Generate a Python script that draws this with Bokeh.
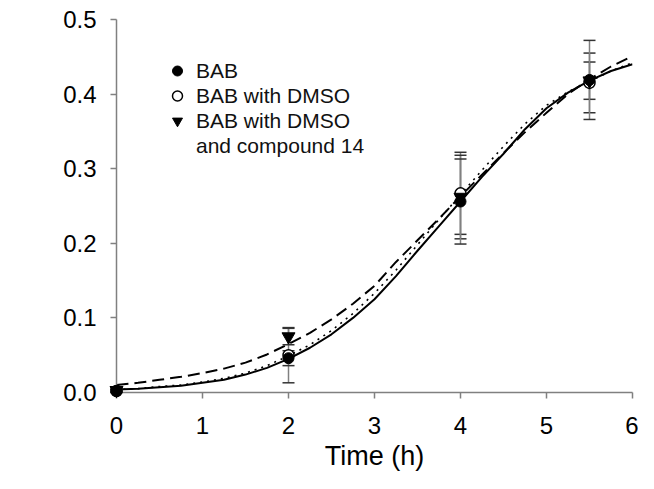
import math
from bokeh.plotting import figure
from bokeh.models import (Range1d, FixedTicker, PrintfTickFormatter, Legend,
                          LegendItem, Label, ColumnDataSource)
from bokeh.embed import file_html
from bokeh.resources import INLINE

# ---- data ----
x_ticks = [0, 1, 2, 3, 4, 5, 6]
y_ticks = [0.0, 0.1, 0.2, 0.3, 0.4, 0.5]

time_pts = [0, 2, 4, 5.5]
bab = [0.002, 0.046, 0.256, 0.419]
bab_err = [0.002, 0.010, 0.057, 0.053]
dmso = [0.002, 0.050, 0.267, 0.415]
dmso_err = [0.002, 0.037, 0.055, 0.040]
cpd = [0.003, 0.075, 0.262, 0.418]
cpd_err = [0.002, 0.011, 0.056, 0.025]

curve_t = [0, 0.25, 0.5, 0.75, 1.0, 1.25, 1.5, 1.75, 2.0, 2.25, 2.5, 2.75, 3.0,
           3.25, 3.5, 3.75, 4.0, 4.25, 4.5, 4.75, 5.0, 5.25, 5.5, 5.75, 6.0]
fit_bab = [0.004, 0.005, 0.007, 0.009, 0.013, 0.017, 0.024, 0.033, 0.045, 0.060,
           0.078, 0.100, 0.125, 0.156, 0.190, 0.223, 0.256, 0.289, 0.320, 0.353,
           0.381, 0.402, 0.418, 0.431, 0.440]
fit_dmso = [0.004, 0.005, 0.008, 0.010, 0.014, 0.019, 0.026, 0.036, 0.049, 0.064,
            0.083, 0.106, 0.133, 0.164, 0.198, 0.232, 0.265, 0.298, 0.330, 0.360,
            0.385, 0.403, 0.417, 0.431, 0.442]
fit_cpd = [0.010, 0.013, 0.017, 0.021, 0.026, 0.032, 0.040, 0.051, 0.065, 0.080,
           0.098, 0.119, 0.143, 0.175, 0.204, 0.233, 0.263, 0.292, 0.321, 0.349,
           0.375, 0.400, 0.420, 0.437, 0.451]

FONT = "Liberation Sans"
AXIS_COL = "#808080"

p = figure(width=638, height=473, output_backend="svg", toolbar_location=None,
           x_range=Range1d(0, 6), y_range=Range1d(0, 0.5),
           min_border_left=116, min_border_right=6, min_border_top=19,
           min_border_bottom=81)
p.xgrid.visible = False
p.ygrid.visible = False
p.outline_line_color = None
p.background_fill_color = "white"
p.border_fill_color = "white"

for ax in (p.xaxis, p.yaxis):
    ax.axis_line_color = AXIS_COL
    ax.axis_line_width = 1.5
    ax.major_tick_line_color = AXIS_COL
    ax.major_tick_line_width = 1.5
    ax.major_tick_out = 6
    ax.major_tick_in = 0
    ax.minor_tick_line_color = None
    ax.major_label_text_font = FONT
    ax.major_label_text_font_size = "24px"
    ax.major_label_text_color = "black"

p.xaxis.ticker = FixedTicker(ticks=x_ticks)
p.yaxis.ticker = FixedTicker(ticks=y_ticks)
p.yaxis.formatter = PrintfTickFormatter(format="%.1f")
p.yaxis.major_label_standoff = 14
p.xaxis.major_label_standoff = 18
p.xaxis.axis_label = "Time (h)"
p.xaxis.axis_label_text_font = FONT
p.xaxis.axis_label_text_font_size = "27px"
p.xaxis.axis_label_text_font_style = "normal"
p.xaxis.axis_label_text_color = "black"
p.xaxis.axis_label_standoff = 4

# fitted curves
p.line(curve_t, fit_bab, line_color="black", line_width=2)
p.line(curve_t, fit_dmso, line_color="black", line_width=1.6, line_dash="2 5")
p.line(curve_t, fit_cpd, line_color="black", line_width=2, line_dash="12 6")

# error bars
def err_src(y, e):
    return ColumnDataSource(dict(x=time_pts, y0=[a - b for a, b in zip(y, e)],
                                 y1=[a + b for a, b in zip(y, e)]))

for y, e in ((dmso, dmso_err), (cpd, cpd_err), (bab, bab_err)):
    s = err_src(y, e)
    p.segment(x0="x", y0="y0", x1="x", y1="y1", source=s,
              line_color=AXIS_COL, line_width=1.5, level="overlay")
    p.scatter(x="x", y="y0", source=s, marker="dash", size=12,
              line_color="#333333", line_width=1.5, level="overlay")
    p.scatter(x="x", y="y1", source=s, marker="dash", size=12,
              line_color="#333333", line_width=1.5, level="overlay")

# markers
r_dmso = p.scatter(time_pts, dmso, marker="circle", size=11, level="overlay",
                   fill_color="white", line_color="black", line_width=1.5)
r_cpd = p.scatter(time_pts, cpd, marker="inverted_triangle", size=13,
                  level="overlay", fill_color="black", line_color="black")
r_bab = p.scatter(time_pts, bab, marker="circle", size=11, level="overlay",
                  fill_color="black", line_color="black")
r_blank = p.scatter(x=[], y=[], marker="circle", size=1, fill_alpha=0, line_alpha=0)

legend = Legend(items=[
    LegendItem(label="BAB", renderers=[r_bab]),
    LegendItem(label="BAB with DMSO", renderers=[r_dmso]),
    LegendItem(label="BAB with DMSO", renderers=[r_cpd]),
    LegendItem(label="and compound 14", renderers=[r_blank]),
], location=(46, 234), label_text_font=FONT, label_text_font_size="21px",
    label_text_color="#111111", glyph_width=30, glyph_height=25, label_height=25,
    spacing=0, padding=0, margin=0, border_line_color=None,
    background_fill_alpha=0, label_standoff=4)
p.add_layout(legend)

# y-axis label OD with subscript 590
p.add_layout(Label(x=-93, y=186, x_units="screen", y_units="screen", text="OD",
                   angle=math.pi / 2, text_align="center", text_baseline="middle",
                   text_font=FONT, text_font_size="26px", text_color="black"))
p.add_layout(Label(x=-80, y=212, x_units="screen", y_units="screen", text="590",
                   angle=math.pi / 2, text_align="center", text_baseline="middle",
                   text_font=FONT, text_font_size="17px", text_color="black"))

open("out.html", "w").write(file_html(p, INLINE))
